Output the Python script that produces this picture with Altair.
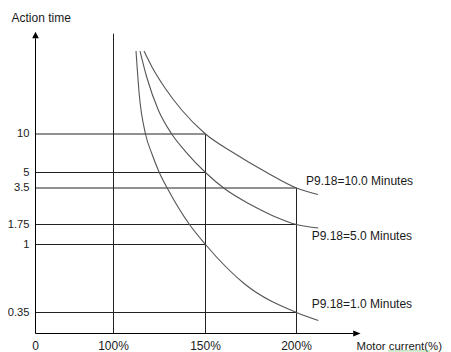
import altair as alt
import pandas as pd

# ---------------- data ----------------
# axis ticks
x_ticks = [0, 100, 150, 200]
x_tick_labels = ["0", "100%", "150%", "200%"]
y_ticks = [10, 5, 3.5, 1.75, 1, 0.35]
y_tick_labels = ["10", "5", "3.5", "1.75", "1", "0.35"]

# horizontal guide lines: action-time level and the current (%) where each ends
h_levels = [10, 5, 3.5, 1.75, 1, 0.35]
h_ends = [150, 150, 200, 200, 150, 200]
# vertical guide lines: current (%) and the action time where each stops
v_currents = [100, 150, 200]
v_tops = [40.6, 10, 3.5]

# overload curves (current %, action time)
c10_x = [116.58, 120.92, 127.99, 137.07, 150, 165.11, 183.63, 200, 211.75]
c10_y = [35.3, 30.43, 24.02, 17.32, 10, 7.60, 5.0, 3.5, 3.19]
c5_x = [114.40, 118.21, 124.35, 131.63, 139.40, 150, 160.71, 174.45, 187.25, 200, 211.91]
c5_y = [35.3, 27.07, 17.32, 10, 7.66, 5, 3.45, 2.72, 2.16, 1.75, 1.62]
c1_x = [112.23, 114.02, 117.39, 120.92, 124.89, 129.78, 141.20, 150, 171.70, 200, 211.91]
c1_y = [35.3, 21.89, 10, 7.40, 5, 3.40, 1.76, 1, 0.62, 0.35, 0.217]

curve_labels = ["P9.18=10.0 Minutes", "P9.18=5.0 Minutes", "P9.18=1.0 Minutes"]
label_x = [205.2, 208.3, 208.3]
label_y = [3.83, 1.16, 0.393]

x_title = "Motor current(%)"
y_title = "Action time"

# ---------------- tables ----------------
curves = pd.concat([
    pd.DataFrame({"name": "10", "x": c10_x, "y": c10_y}),
    pd.DataFrame({"name": "5", "x": c5_x, "y": c5_y}),
    pd.DataFrame({"name": "1", "x": c1_x, "y": c1_y}),
])
hlines = pd.DataFrame({"y": h_levels, "x": [0] * len(h_levels), "x2": h_ends})
vlines = pd.DataFrame({"x": v_currents, "y": [0] * len(v_currents), "y2": v_tops})
yt = pd.DataFrame({"y": y_ticks, "x": [0] * len(y_ticks), "t": y_tick_labels})
xt = pd.DataFrame({"x": x_ticks, "y": [0] * len(x_ticks), "t": x_tick_labels})
cl = pd.DataFrame({"x": label_x, "y": label_y, "t": curve_labels})

# ---------------- scales (piecewise, as in the drawing) ----------------
xs = alt.Scale(domain=[0, 100, 150, 200, 250],
               range=[27.5, 105.5, 197.5, 288.5, 380.0], zero=False, nice=False)
ys = alt.Scale(domain=[0, 0.35, 1, 1.75, 3.5, 5, 10, 45],
               range=[325.5, 304.5, 236.5, 216.5, 180.0, 164.5, 126.0, 11.2], zero=False, nice=False)

def X(f="x"):
    return alt.X(f, type="quantitative", scale=xs, axis=None)

def Y(f="y"):
    return alt.Y(f, type="quantitative", scale=ys, axis=None)

FONT = "Liberation Sans"
INK = "#1a1a1a"
LINE = "#222222"

h = alt.Chart(hlines).mark_rule(color=LINE, strokeWidth=1).encode(
    x=X(), x2="x2", y=Y())
v = alt.Chart(vlines).mark_rule(color=LINE, strokeWidth=1).encode(
    x=X(), y=Y(), y2="y2")

yaxis = alt.Chart(pd.DataFrame({"x": [0], "y": [0], "y2": [39.2]})).mark_rule(
    color="#000", strokeWidth=1).encode(x=X(), y=Y(), y2="y2")
xaxis = alt.Chart(pd.DataFrame({"x": [0], "x2": [231], "y": [0]})).mark_rule(
    color="#000", strokeWidth=1).encode(x=X(), x2="x2", y=Y())

yarrow = alt.Chart(pd.DataFrame({"x": [0], "y": [41.2]})).mark_point(
    shape="M0,0L-0.95,1.9L0.95,1.9Z", size=49, filled=True, fill="#000",
    opacity=1, strokeWidth=0).encode(x=X(), y=Y())
xarrow = alt.Chart(pd.DataFrame({"x": [235], "y": [0]})).mark_point(
    shape="M0,0L-2.1,-0.85L-2.1,0.85Z", size=49, filled=True, fill="#000",
    opacity=1, strokeWidth=0).encode(x=X(), y=Y())

lines = alt.Chart(curves).mark_line(
    color="#555555", strokeWidth=1.1, interpolate="monotone").encode(
    x=X(), y=Y(), detail="name:N", order=alt.Order("x:Q"))

ytext = alt.Chart(yt).mark_text(
    align="right", baseline="middle", dx=-6, font=FONT, fontSize=11.2, color=INK).encode(
    x=X(), y=Y(), text="t:N")
xtext = alt.Chart(xt).mark_text(
    align="center", baseline="alphabetic", dy=16, font=FONT, fontSize=12, color=INK).encode(
    x=X(), y=Y(), text="t:N")
ctext = alt.Chart(cl).mark_text(
    align="left", baseline="alphabetic", font=FONT, fontSize=12, color=INK).encode(
    x=X(), y=Y(), text="t:N")

ytitle = alt.Chart(pd.DataFrame({"x": [0], "y": [44.24], "t": [y_title]})).mark_text(
    align="left", baseline="alphabetic", dx=-24, font=FONT, fontSize=12, color=INK).encode(
    x=X(), y=Y(), text="t:N")
xtitle = alt.Chart(pd.DataFrame({"x": [232.8], "y": [0], "t": [x_title]})).mark_text(
    align="left", baseline="alphabetic", dy=16, font=FONT, fontSize=11.4, color=INK).encode(
    x=X(), y=Y(), text="t:N")
squiggle = alt.Chart(pd.DataFrame({"x": [250.3], "x2": [273.0], "y": [-0.29]})).mark_rule(
    color="#5cb85c", strokeWidth=1.2, strokeDash=[1, 1]).encode(x=X(), x2="x2", y=Y())

chart = alt.layer(
    h, v, yaxis, xaxis, lines, yarrow, xarrow, ytext, xtext, ctext, ytitle, xtitle, squiggle
).properties(
    width=435, height=344,
    autosize=alt.AutoSizeParams(type="none"),
    padding=0,
    background="white",
).configure_view(strokeWidth=0)

chart.save("out.html", embed_options={"renderer": "svg", "actions": False})
